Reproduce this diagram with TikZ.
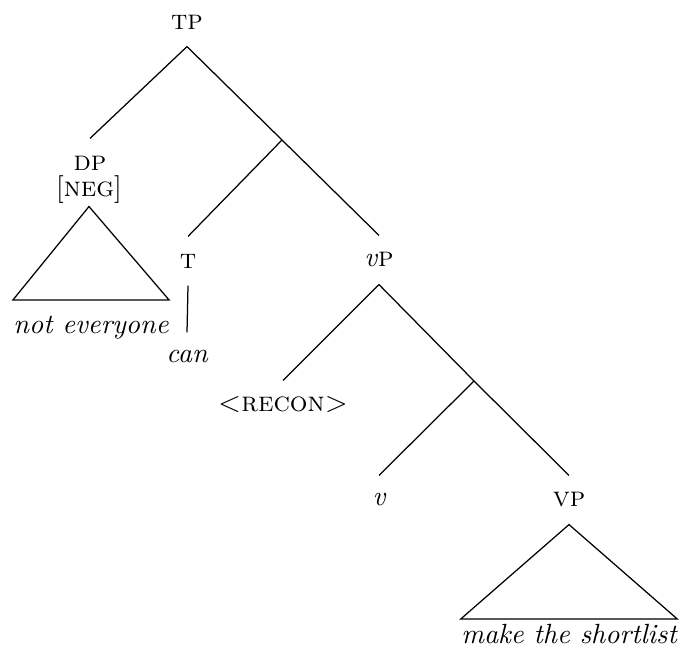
\documentclass[tikz,border=0pt]{standalone}
\usetikzlibrary{positioning}

\begin{document}
\begin{tikzpicture}[x=0.36pt, y=-0.36pt,
                cat/.style={minimum height=17.3pt, inner sep=0pt},
                feat/.style={minimum height=11.5pt, inner sep=0pt},
                roof/.style={inner xsep=0pt, inner ysep=0pt, anchor=north, font=\itshape},
                branch/.style={line width=0.45pt}
            ]
            \useasboundingbox (0,0) rectangle (681,653);

            % top of the tree
            \node[cat] (tp) at (187,22) {\textsc{tp}};
            \coordinate (tbar) at (282,140);

            \node[cat] (dp) at (90,163) {\textsc{dp}};
            \node[feat] (neg) at (89,190) {[\textsc{neg}]};
            \node[roof, text height=11.9pt] (ne) at (91,300) {not everyone};

            \node[cat] (t) at (188,261) {\textsc{t}};
            \node[cat, font=\itshape] (can) at (187,357) {can};

            % vP part
            \node[cat] (vP) at (379,260) {\textit{v}\textsc{p}};
            \node[cat] (recon) at (283,405) {\textsc{<recon>}};
            \coordinate (vbar) at (474,381);
            \node[cat, font=\itshape] (v) at (379,500) {v};
            \node[cat] (VP) at (569,500) {\textsc{vp}};
            \node[roof, text height=8.6pt] (mts) at (569,619) {make the shortlist};

            \draw[branch] (tp.south) -- (dp.north);
            \draw[branch] (tp.south) -- (tbar);
            \draw[branch] (tbar) -- (t.north);
            \draw[branch] (tbar) -- (vP.north);
            \draw[branch] (t.south) -- (can.north);
            \draw[branch] (neg.south) -- (ne.north west) -- (ne.north east) -- cycle;

            \draw[branch] (vP.south) -- (recon.north);
            \draw[branch] (vP.south) -- (vbar);
            \draw[branch] (vbar) -- (v.north);
            \draw[branch] (vbar) -- (VP.north);
            \draw[branch] (VP.south) -- (mts.north west) -- (mts.north east) -- cycle;

            \end{tikzpicture}
\end{document}
